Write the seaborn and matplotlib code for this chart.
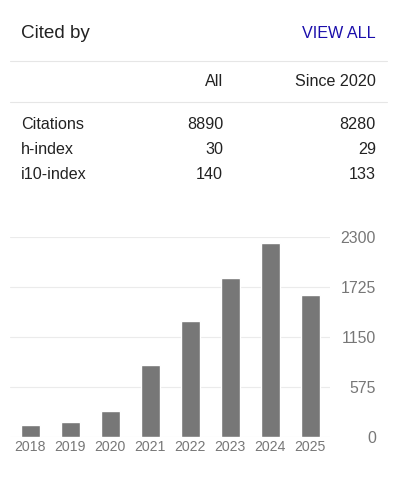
import matplotlib
matplotlib.use("Agg")
import matplotlib.pyplot as plt
import seaborn as sns
import pandas as pd
from matplotlib.lines import Line2D

years = ['2018', '2019', '2020', '2021', '2022', '2023', '2024', '2025']
cites = [138, 176, 303, 828, 1338, 1829, 2235, 1633]
yticks = [0, 575, 1150, 1725, 2300]

row_names = ['Citations', 'h-index', 'i10-index']
col_all = ['8890', '30', '140']
col_since = ['8280', '29', '133']
col_heads = ['All', 'Since 2020']

sns.set_theme(style='white')
plt.rcParams['font.family'] = ['Liberation Sans', 'DejaVu Sans']

W, H = 399, 478
fig = plt.figure(figsize=(W / 100, H / 100), dpi=100)
fig.patch.set_facecolor('white')

def fx(px):
    return px / W

def fy(py):
    return 1 - py / H

txt = '#222222'
# header
fig.text(fx(21), fy(33), 'Cited by', fontsize=13.6, color=txt, va='center', ha='left')
fig.text(fx(376), fy(33), 'VIEW ALL', fontsize=11.6, color='#1a0dab', va='center', ha='right')

# separators
for yy in [60.5, 101.5]:
    fig.add_artist(Line2D([fx(10), fx(387)], [fy(yy), fy(yy)], color='#e6e6e6', lw=0.8,
                          transform=fig.transFigure))

fig.text(fx(223), fy(81), col_heads[0], fontsize=11.6, color=txt, va='center', ha='right')
fig.text(fx(376), fy(81), col_heads[1], fontsize=11.6, color=txt, va='center', ha='right')

row_y = [124.5, 149.5, 174.5]
for name, a, s, yy in zip(row_names, col_all, col_since, row_y):
    fig.text(fx(21), fy(yy), name, fontsize=11.6, color=txt, va='center', ha='left')
    fig.text(fx(223), fy(yy), a, fontsize=11.6, color=txt, va='center', ha='right')
    fig.text(fx(376), fy(yy), s, fontsize=11.6, color=txt, va='center', ha='right')

# bar chart
ax = fig.add_axes([fx(10), fy(437), 320 / W, 200 / H])
df = pd.DataFrame({'year': years, 'cites': cites})
sns.barplot(data=df, x='year', y='cites', color='#777777', saturation=1, width=0.475, ax=ax, zorder=3)
ax.set_xlim(-0.5, 7.5)
ax.set_ylim(0, 2300)
ax.set_yticks(yticks)
ax.yaxis.tick_right()
ax.set_xlabel('')
ax.set_ylabel('')
for sp in ax.spines.values():
    sp.set_visible(False)
ax.grid(axis='y', color='#ebebeb', lw=0.8, zorder=0)
ax.set_axisbelow(True)
ax.tick_params(axis='y', length=0, pad=33, labelsize=11.4, labelcolor='#777777')
ax.tick_params(axis='x', length=0, pad=2.5, labelsize=10.2, labelcolor='#777777')
for lab in ax.get_yticklabels():
    lab.set_horizontalalignment('right')

fig.savefig('out.png', dpi=100)
